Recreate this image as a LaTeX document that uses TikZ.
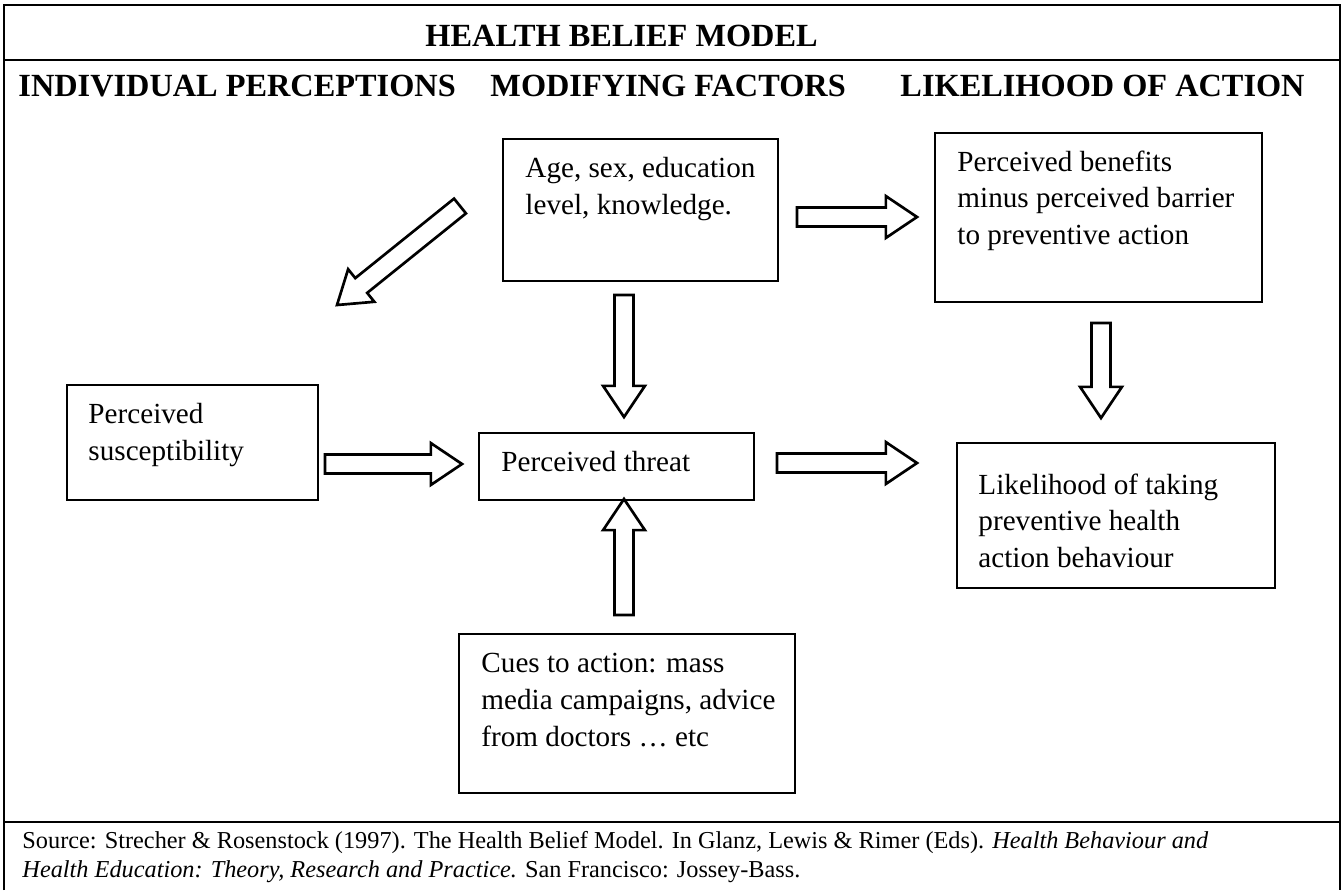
\documentclass[tikz,border=0pt]{standalone}
\usepackage{fontspec}
\setmainfont{Liberation Serif}
\usetikzlibrary{calc,fit}
\newcommand\shafthw{3.9pt}
\newcommand\headhw{8.6pt}
\newcommand\headlen{12.8pt}
\newcommand\blockarrow[2]{%
  \coordinate (#1-base) at ($(#2)!\headlen!(#1)$);
  \draw[blockline] ($(#1)!\shafthw!90:(#2)$) -- ($(#1-base)!\shafthw!90:(#2)$)
    -- ($(#1-base)!\headhw!90:(#2)$) -- (#2) -- ($(#1-base)!\headhw!-90:(#2)$)
    -- ($(#1-base)!\shafthw!-90:(#2)$) -- ($(#1)!\shafthw!-90:(#2)$) -- cycle;}
\tikzset{
  frameline/.style={line width=1.1pt},
  box/.style={draw, line width=0.8pt, inner sep=0pt},
  boxtext/.style={anchor=north west, inner sep=0pt, align=left,
    font=\fontsize{12}{15.2}\selectfont},
  heading/.style={anchor=base west, inner sep=0pt,
    font=\fontsize{13.3}{16}\selectfont\bfseries},
  source/.style={anchor=north west, inner sep=0pt, align=left,
    font=\fontsize{10}{12}\selectfont},
  blockline/.style={line width=1.1pt, line join=miter}
}
\begin{document}
\begin{tikzpicture}[x=0.4115pt, y=-0.4115pt]
  \useasboundingbox (0,0) rectangle (1342,890);

  \draw[frameline] (4,890) -- (4,5) -- (1340,5) -- (1340,890);
  \draw[frameline] (4,60) -- (1340,60);
  \draw[frameline] (4,822) -- (1340,822);

  \node[heading] (title) at (425,46) {HEALTH BELIEF MODEL};
  \node[heading] (hindiv) at (18,96) {INDIVIDUAL PERCEPTIONS};
  \node[heading] (hmod) at (490,96) {MODIFYING FACTORS};
  \node[heading] (hlike) at (900,96) {LIKELIHOOD OF ACTION};

  \node[box, fit={(503,139) (778,281)}] (age) {};
  \node[boxtext] (agetxt) at (525,157) {Age, sex, education\\level, knowledge.};
  \node[box, fit={(935,133) (1262,302)}] (benefits) {};
  \node[boxtext] (benefitstxt) at (957,150) {Perceived benefits\\minus perceived barrier\\to preventive action};
  \node[box, fit={(67,385) (318,500)}] (susc) {};
  \node[boxtext] (susctxt) at (88,403) {Perceived\\susceptibility};
  \node[box, fit={(479,433) (754,500)}] (threat) {};
  \node[boxtext] (threattxt) at (501,451) {Perceived threat};
  \node[box, fit={(957,443) (1275,588)}] (likely) {};
  \node[boxtext] (likelytxt) at (978,473) {Likelihood of taking\\preventive health\\action behaviour};
  \node[box, fit={(459,634) (795,793)}] (cues) {};
  \node[boxtext] (cuestxt) at (481,653) {Cues to action: mass\\media campaigns, advice\\from doctors … etc};

  \coordinate (diag) at (460,206);      \coordinate (diagtip) at (337,305);
  \coordinate (agebf) at (797,217);     \coordinate (agebftip) at (917,217);
  \coordinate (agedn) at (624,295);     \coordinate (agedntip) at (624,417);
  \coordinate (bfdn) at (1101,323);     \coordinate (bfdntip) at (1101,418);
  \coordinate (susth) at (325,464);     \coordinate (susthtip) at (462,464);
  \coordinate (thlk) at (777,463);      \coordinate (thlktip) at (917,463);
  \coordinate (cuesup) at (624,615);    \coordinate (cuesuptip) at (624,499);

  \blockarrow{diag}{diagtip}
  \blockarrow{agebf}{agebftip}
  \blockarrow{agedn}{agedntip}
  \blockarrow{bfdn}{bfdntip}
  \blockarrow{susth}{susthtip}
  \blockarrow{thlk}{thlktip}
  \blockarrow{cuesup}{cuesuptip}

  \node[source] (src) at (22,831) {Source: Strecher \& Rosenstock (1997). The Health Belief Model. In Glanz, Lewis \& Rimer (Eds). \textit{Health Behaviour and}\\\textit{Health Education: Theory, Research and Practice.} San Francisco: Jossey-Bass.};
\end{tikzpicture}
\end{document}
